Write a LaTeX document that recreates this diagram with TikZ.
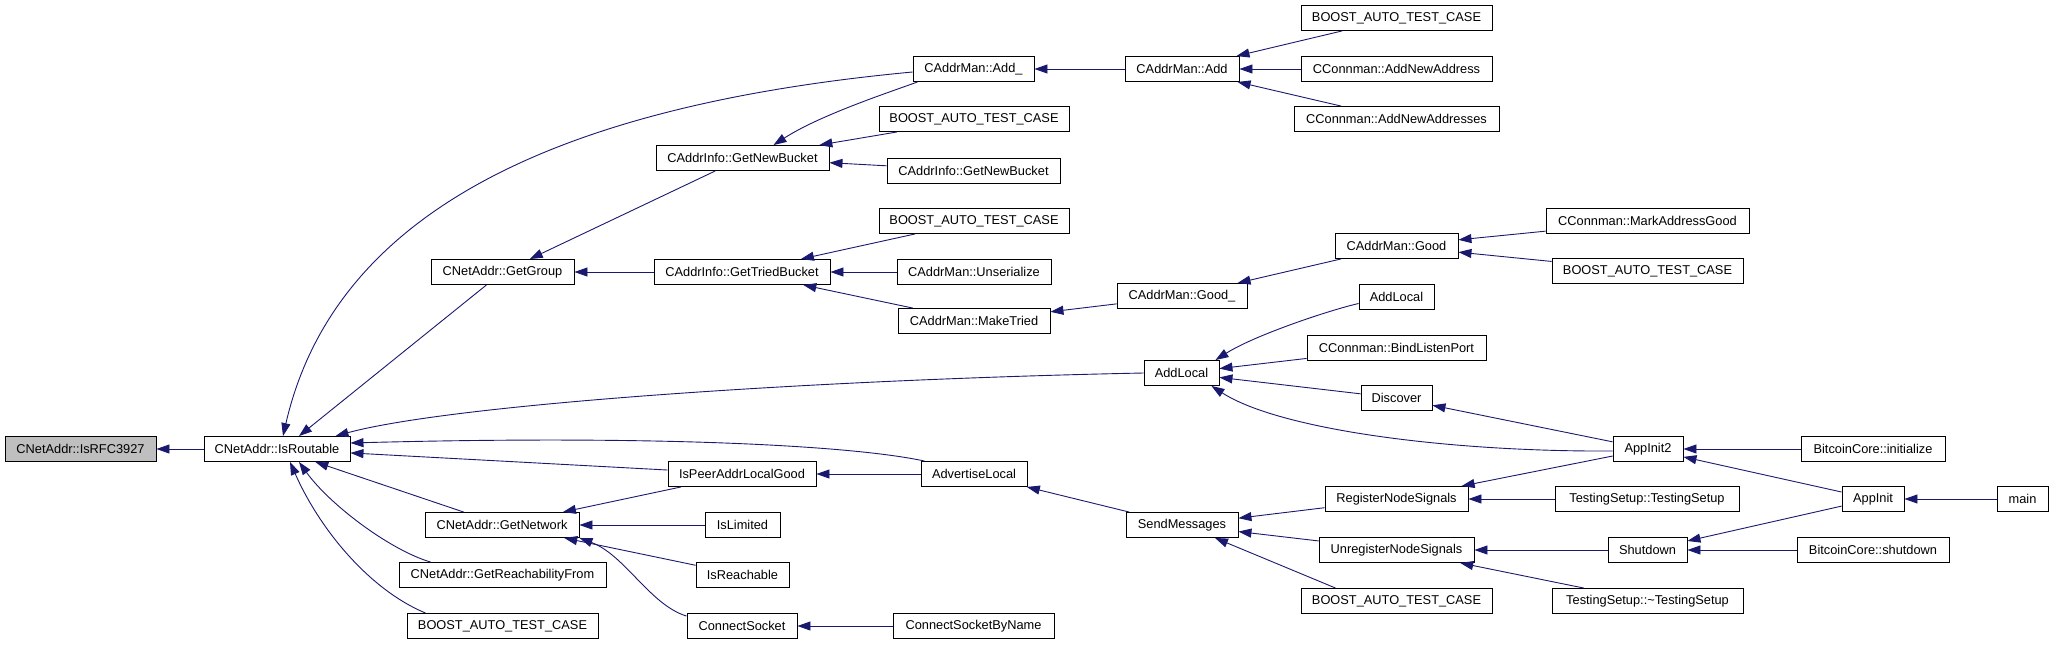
\documentclass[tikz,border=0pt]{standalone}
\usepackage{fontspec}
\setmainfont{Liberation Sans}
\usetikzlibrary{arrows.meta}
\definecolor{edgeblue}{HTML}{191970}
\definecolor{focusgray}{HTML}{BFBFBF}
\begin{document}
\begin{tikzpicture}[x=1pt,y=-1pt,
  box/.style={draw=black, fill=white, line width=0.9pt, minimum height=25pt, inner sep=0pt, font=\fontsize{12.8}{14}\selectfont},
  edge/.style={draw=edgeblue, line width=0.9pt, {Triangle[length=13pt,width=9pt]}-}]
\fill[white] (0,0) rectangle (2053,645);
\useasboundingbox (0,0) rectangle (2053,645);
% rank 0
\node[box, minimum width=151pt, fill=focusgray] (n0) at (80.5,449) {CNetAddr::IsRFC3927};
% rank 1
\node[box, minimum width=146pt] (n1) at (277,449) {CNetAddr::IsRoutable};
% rank 2
\node[box, minimum width=143pt] (gg) at (502.5,272) {CNetAddr::GetGroup};
\node[box, minimum width=154pt] (gn) at (502,525) {CNetAddr::GetNetwork};
\node[box, minimum width=207pt] (grf) at (502.5,575) {CNetAddr::GetReachabilityFrom};
\node[box, minimum width=191pt] (b2) at (502.5,626) {BOOST\_AUTO\_TEST\_CASE};
% rank 3
\node[box, minimum width=173pt] (gnb) at (742.5,158) {CAddrInfo::GetNewBucket};
\node[box, minimum width=176pt] (gtb) at (742,272) {CAddrInfo::GetTriedBucket};
\node[box, minimum width=148pt] (ipl) at (742,474) {IsPeerAddrLocalGood};
\node[box, minimum width=75pt] (il) at (742.5,525) {IsLimited};
\node[box, minimum width=93pt] (ir) at (742.5,575) {IsReachable};
\node[box, minimum width=110pt] (cs) at (742,626) {ConnectSocket};
% rank 4
\node[box, minimum width=121pt] (addu) at (973.5,69) {CAddrMan::Add\_};
\node[box, minimum width=190pt] (b4a) at (974,119) {BOOST\_AUTO\_TEST\_CASE};
\node[box, minimum width=173pt] (gnbb) at (973.5,170.5) {CAddrInfo::GetNewBucket};
\node[box, minimum width=190pt] (b4b) at (974,221) {BOOST\_AUTO\_TEST\_CASE};
\node[box, minimum width=154pt] (unser) at (974,272) {CAddrMan::Unserialize};
\node[box, minimum width=152pt] (mt) at (974,321) {CAddrMan::MakeTried};
\node[box, minimum width=106pt] (adv) at (974,474) {AdvertiseLocal};
\node[box, minimum width=161pt] (csbn) at (973.5,626) {ConnectSocketByName};
% rank 5
\node[box, minimum width=114pt] (add) at (1182,69) {CAddrMan::Add};
\node[box, minimum width=130pt] (goodu) at (1182,296) {CAddrMan::Good\_};
\node[box, minimum width=75pt] (alf) at (1181.5,373) {AddLocal};
\node[box, minimum width=112pt] (sm) at (1182,525) {SendMessages};
% rank 6
\node[box, minimum width=191pt] (b6a) at (1396.5,18) {BOOST\_AUTO\_TEST\_CASE};
\node[box, minimum width=191pt] (ana) at (1396.5,69) {CConnman::AddNewAddress};
\node[box, minimum width=205pt] (anas) at (1396.5,119) {CConnman::AddNewAddresses};
\node[box, minimum width=123pt] (good) at (1396.5,246) {CAddrMan::Good};
\node[box, minimum width=75pt] (als) at (1396.5,297) {AddLocal};
\node[box, minimum width=179pt] (blp) at (1396.5,348) {CConnman::BindListenPort};
\node[box, minimum width=71pt] (disc) at (1396.5,398) {Discover};
\node[box, minimum width=143pt] (rns) at (1396.5,499) {RegisterNodeSignals};
\node[box, minimum width=155pt] (urns) at (1396.5,550) {UnregisterNodeSignals};
\node[box, minimum width=191pt] (b6b) at (1396.5,601) {BOOST\_AUTO\_TEST\_CASE};
% rank 7
\node[box, minimum width=203pt] (mag) at (1647.5,221) {CConnman::MarkAddressGood};
\node[box, minimum width=191pt] (b7) at (1647.5,271) {BOOST\_AUTO\_TEST\_CASE};
\node[box, minimum width=70pt] (aitwo) at (1648,449) {AppInit2};
\node[box, minimum width=184pt] (ts) at (1647,499) {TestingSetup::TestingSetup};
\node[box, minimum width=79pt] (sd) at (1647.5,550) {Shutdown};
\node[box, minimum width=191pt] (tts) at (1647.5,601) {TestingSetup::\textasciitilde TestingSetup};
% rank 8
\node[box, minimum width=144pt] (bci) at (1873,449) {BitcoinCore::initialize};
\node[box, minimum width=62pt] (ai) at (1873,499) {AppInit};
\node[box, minimum width=152pt] (bcs) at (1873,550) {BitcoinCore::shutdown};
% rank 9
\node[box, minimum width=51pt] (mainn) at (2022.5,499) {main};

% edges (arrow at callee)
\draw[edge] (n0) -- (n1);
\draw[edge] ([xshift=22pt]n1.north) -- (gg);
\draw[edge] ([xshift=6pt]n1.north) .. controls (335,210) and (560,105) .. ([yshift=-3pt]addu.west);
\draw[edge] ([xshift=-15pt]n1.north east) .. controls (450,405) and (800,380) .. (alf.west);
\draw[edge] ([yshift=6pt]n1.east) .. controls (650,435) and (850,445) .. ([xshift=4pt]adv.north west);
\draw[edge] (n1) -- (ipl);
\draw[edge] (n1) -- (gn);
\draw[edge] ([xshift=22pt]n1.south) .. controls (330,505) and (390,550) .. ([xshift=32pt]grf.north west);
\draw[edge] ([xshift=13pt]n1.south) .. controls (320,530) and (370,590) .. ([xshift=19pt]b2.north west);
\draw[edge] (gg) -- (gnb);
\draw[edge] (gg) -- (gtb);
\draw[edge] ([xshift=31pt]gnb.north) .. controls (820,115) and (890,92) .. ([xshift=5pt]addu.south west);
\draw[edge] (gnb) -- (b4a);
\draw[edge] (gnb) -- (gnbb);
\draw[edge] (gtb) -- (b4b);
\draw[edge] (gtb) -- (unser);
\draw[edge] (gtb) -- (mt);
\draw[edge] (addu) -- (add);
\draw[edge] (add) -- (b6a);
\draw[edge] (add) -- (ana);
\draw[edge] (add) -- (anas);
\draw[edge] (mt) -- (goodu);
\draw[edge] (goodu) -- (good);
\draw[edge] (good) -- (mag);
\draw[edge] (good) -- (b7);
\draw[edge] ([xshift=-4pt]alf.north east) .. controls (1255,335) and (1330,310) .. ([yshift=-6.5pt]als.west);
\draw[edge] (alf) -- (blp);
\draw[edge] (alf) -- (disc);
\draw[edge] ([xshift=-8pt]alf.south east) .. controls (1280,430) and (1450,452) .. ([yshift=-2pt]aitwo.west);
\draw[edge] (disc) -- (aitwo);
\draw[edge] (ipl) -- (adv);
\draw[edge] (gn) -- (ipl);
\draw[edge] (gn) -- (il);
\draw[edge] (gn) -- (ir);
\draw[edge] (gn.south east) .. controls (625,555) and (650,605) .. ([yshift=-3pt]cs.north west);
\draw[edge] (cs) -- (csbn);
\draw[edge] (adv) -- (sm);
\draw[edge] (sm) -- (rns);
\draw[edge] (sm) -- (urns);
\draw[edge] ([xshift=33pt]sm.south) -- ([xshift=35pt]b6b.north west);
\draw[edge] (rns) -- (aitwo);
\draw[edge] (rns) -- (ts);
\draw[edge] (urns) -- (sd);
\draw[edge] (urns) -- (tts);
\draw[edge] (aitwo) -- (bci);
\draw[edge] (aitwo) -- (ai);
\draw[edge] (sd) -- (ai);
\draw[edge] (sd) -- (bcs);
\draw[edge] (ai) -- (mainn);
\end{tikzpicture}
\end{document}
